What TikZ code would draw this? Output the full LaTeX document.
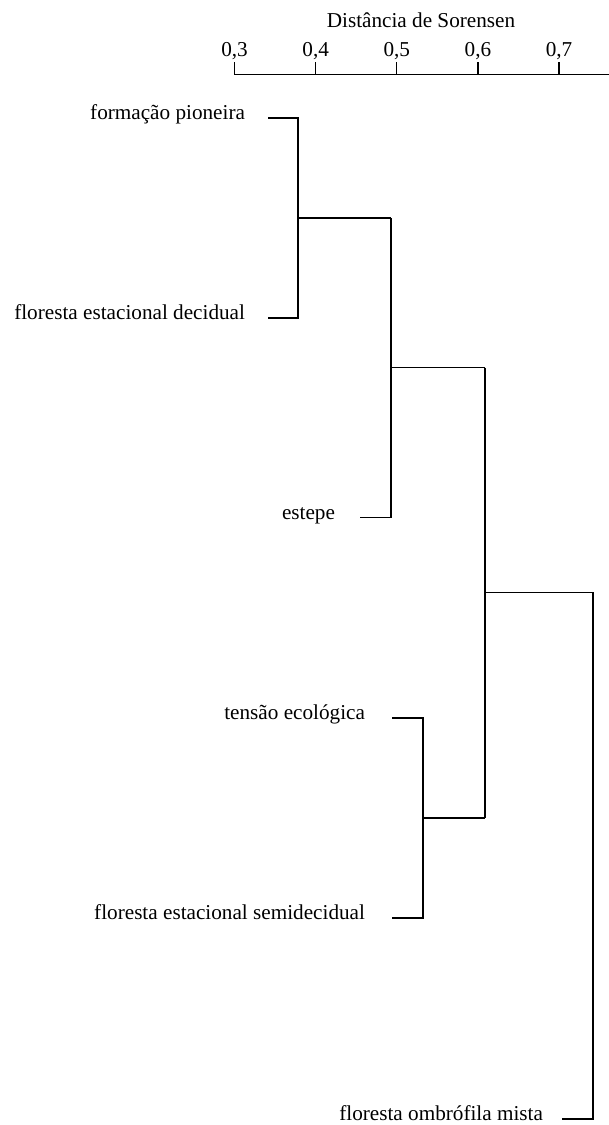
\documentclass[tikz,border=0pt]{standalone}
\usepackage{fontspec}
\setmainfont{Liberation Serif}
\begin{document}
\begin{tikzpicture}[x=1pt,y=-1pt,
  every node/.style={inner sep=0pt,outer sep=0pt,font=\fontsize{21.2}{25}\selectfont},
  leaflabel/.style={anchor=base east},
  ticklabel/.style={anchor=base},
  branch/.style={line width=1.2pt,line cap=butt,line join=miter}]
\useasboundingbox (0,0) rectangle (609,1125);

% distance axis
\node[anchor=base] (title) at (421,27) {Distância de Sorensen};
\coordinate (ax0) at (234.5,74.5);
\coordinate (ax1) at (609,74.5);
\draw[branch] (ax0) -- (ax1);
\foreach \v/\x in {3/234.5,4/315.7,5/396.8,6/477.9,7/559} {
  \draw[branch] (\x,74.5) -- (\x,62);
  \node[ticklabel] (t\v) at (\x,56) {0,\v};
}

% leaf labels
\node[leaflabel] (fp)  at (245,119.5) {formação pioneira};
\node[leaflabel] (fed) at (245,319.5) {floresta estacional decidual};
\node[leaflabel] (est) at (335,519) {estepe};
\node[leaflabel] (te)  at (365,719.5) {tensão ecológica};
\node[leaflabel] (fes) at (365,919.5) {floresta estacional semidecidual};
\node[leaflabel] (fom) at (543,1120.5) {floresta ombrófila mista};

% leaf ends
\coordinate (lfp)  at (268,118);
\coordinate (lfed) at (268,318);
\coordinate (lest) at (360,517.5);
\coordinate (lte)  at (392,718);
\coordinate (lfes) at (392,918);
\coordinate (lfom) at (562,1119);

% junction heights
\coordinate (j1) at (298,218);
\coordinate (j2) at (391,367.5);
\coordinate (j3) at (423,818);
\coordinate (j4) at (485,592.5);
\coordinate (j5) at (593,592.5);

% dendrogram branches
\draw[branch] (lfp) -| (j1 |- lfed) -- (lfed);
\draw[branch] (j1) -- (j1 -| j2);
\draw[branch] (j1 -| j2) -- (j2 |- lest) -- (lest);
\draw[branch] (j2) -- (j2 -| j4);
\draw[branch] (lte) -| (j3 |- lfes) -- (lfes);
\draw[branch] (j3) -- (j3 -| j4);
\draw[branch] (j2 -| j4) -- (j3 -| j4);
\draw[branch] (j4) -- (j5) -- (j5 |- lfom) -- (lfom);
\end{tikzpicture}
\end{document}
